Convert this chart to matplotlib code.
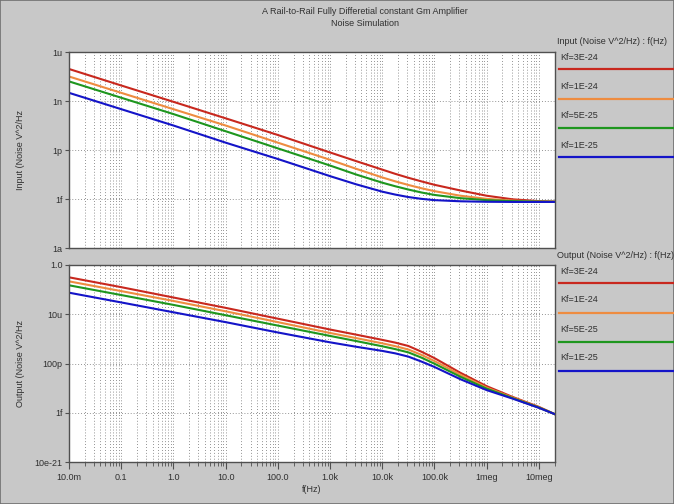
import numpy as np
import matplotlib
matplotlib.use('Agg')
import matplotlib.pyplot as plt
from matplotlib.ticker import FixedLocator, LogLocator, NullFormatter

plt.rcParams['font.family'] = ['Liberation Sans', 'DejaVu Sans']

# frequency points (log10 Hz) and noise values (log10 V^2/Hz)
log_f = [-2, -1, 0, 1, 2, 3, 3.5, 4, 4.25, 4.5, 4.75, 5, 5.5, 6, 6.5, 7, 7.31]

input_noise = {
    'Kf=3E-24': [-7.04, -8.05, -9.05, -10.06, -11.08, -12.15, -12.68, -13.2, -13.46, -13.7, -13.92, -14.13, -14.48, -14.8, -15.02, -15.13, -15.16],
    'Kf=1E-24': [-7.5, -8.5, -9.5, -10.5, -11.55, -12.6, -13.15, -13.68, -13.92, -14.14, -14.34, -14.52, -14.8, -14.99, -15.1, -15.15, -15.17],
    'Kf=5E-25': [-7.8, -8.8, -9.8, -10.85, -11.9, -12.95, -13.5, -14.0, -14.22, -14.42, -14.6, -14.75, -14.95, -15.07, -15.13, -15.16, -15.17],
    'Kf=1E-25': [-8.5, -9.5, -10.5, -11.55, -12.55, -13.6, -14.1, -14.55, -14.73, -14.88, -14.99, -15.07, -15.14, -15.17, -15.18, -15.18, -15.18],
}

output_noise = {
    'Kf=3E-24': [-1.25, -2.25, -3.3, -4.35, -5.45, -6.55, -7.07, -7.6, -7.88, -8.22, -8.8, -9.45, -10.95, -12.3, -13.4, -14.4, -15.15],
    'Kf=1E-24': [-1.66, -2.65, -3.65, -4.7, -5.8, -6.9, -7.42, -7.95, -8.24, -8.58, -9.12, -9.75, -11.15, -12.45, -13.47, -14.45, -15.15],
    'Kf=5E-25': [-2.06, -3.05, -4.05, -5.1, -6.15, -7.2, -7.72, -8.25, -8.54, -8.87, -9.4, -10.02, -11.35, -12.55, -13.52, -14.47, -15.15],
    'Kf=1E-25': [-2.81, -3.8, -4.8, -5.8, -6.85, -7.85, -8.3, -8.72, -8.97, -9.3, -9.8, -10.35, -11.6, -12.7, -13.57, -14.5, -15.15],
}

colors = ['#c8281e', '#ee8c40', '#1e961e', '#1414c8']

x_ticks = [1e-2, 1e-1, 1, 10, 100, 1e3, 1e4, 1e5, 1e6, 1e7]
x_labels = ['10.0m', '0.1', '1.0', '10.0', '100.0', '1.0k', '10.0k', '100.0k', '1meg', '10meg']
top_ticks = [1e-6, 1e-9, 1e-12, 1e-15, 1e-18]
top_labels = ['1u', '1n', '1p', '1f', '1a']
bot_ticks = [1.0, 1e-5, 1e-10, 1e-15, 1e-20]
bot_labels = ['1.0', '10u', '100p', '1f', '10e-21']

bg = '#c8c8c8'
txt = '#303030'
fs = 6.5

fig = plt.figure(figsize=(6.74, 5.04), dpi=100, facecolor=bg)

ax1 = fig.add_axes([69 / 674, 1 - 248 / 504, 486 / 674, 196 / 504])
ax2 = fig.add_axes([69 / 674, 1 - 462 / 504, 486 / 674, 197 / 504])

f = 10 ** np.array(log_f)


def style(ax, yticks, ylabels, ylim, ylabel, show_x):
    ax.set_xscale('log')
    ax.set_yscale('log')
    ax.set_xlim(1e-2, 10 ** 7.31)
    ax.set_ylim(*ylim)
    ax.set_facecolor('white')
    for s in ax.spines.values():
        s.set_color('#505050')
        s.set_linewidth(1.0)
    ax.yaxis.set_major_locator(FixedLocator(yticks))
    ax.yaxis.set_minor_locator(FixedLocator([]))
    ax.set_yticklabels(ylabels)
    ax.xaxis.set_major_locator(FixedLocator(x_ticks))
    ax.xaxis.set_minor_locator(LogLocator(base=10, subs=np.arange(2, 10), numticks=30))
    ax.xaxis.set_minor_formatter(NullFormatter())
    ax.grid(True, which='both', axis='x', color='#707070', linestyle=(0, (1, 2.5)), linewidth=0.6)
    ax.grid(True, which='major', axis='y', color='#707070', linestyle=(0, (1, 2.5)), linewidth=0.6)
    ax.tick_params(axis='y', direction='out', length=3, width=0.8, color='#505050',
                   labelsize=fs, labelcolor=txt, pad=1.5)
    if show_x:
        ax.set_xticklabels(x_labels)
        ax.tick_params(axis='x', which='major', direction='out', length=5, width=0.8,
                       color='#505050', labelsize=fs, labelcolor=txt, pad=3)
        ax.tick_params(axis='x', which='minor', direction='out', length=3, width=0.6,
                       color='#505050')
        ax.set_xlabel('f(Hz)', fontsize=fs, color=txt, labelpad=2)
    else:
        ax.tick_params(axis='x', which='both', length=0, labelbottom=False)
    ax.set_ylabel(ylabel, fontsize=fs, color=txt)


for (name, vals), c in zip(input_noise.items(), colors):
    ax1.plot(f, 10 ** np.array(vals), color=c, linewidth=1.5, label=name)
for (name, vals), c in zip(output_noise.items(), colors):
    ax2.plot(f, 10 ** np.array(vals), color=c, linewidth=1.5, label=name)

style(ax1, top_ticks, top_labels, (1e-18, 1e-6), 'Input (Noise V^2/Hz', False)
style(ax2, bot_ticks, bot_labels, (1e-20, 1.0), 'Output (Noise V^2/Hz', True)
ax1.yaxis.set_label_coords(-0.09, 0.5)
ax2.yaxis.set_label_coords(-0.09, 0.5)

# title
fig.text(365 / 674, 1 - 12 / 504, 'A Rail-to-Rail Fully Differetial constant Gm Amplifier',
         ha='center', va='center', fontsize=fs, color=txt)
fig.text(365 / 674, 1 - 24 / 504, 'Noise Simulation', ha='center', va='center', fontsize=fs, color=txt)

# legends drawn on the right side
def side_legend(title, title_y, names, text_ys, line_ys):
    fig.text(557 / 674, 1 - title_y / 504, title, ha='left', va='center', fontsize=fs, color=txt)
    for name, c, ty, ly in zip(names, colors, text_ys, line_ys):
        fig.text(560 / 674, 1 - ty / 504, name, ha='left', va='center', fontsize=fs, color=txt)
        fig.add_artist(plt.Line2D([559 / 674, 1.0], [1 - ly / 504, 1 - ly / 504],
                                  color=c, linewidth=1.6, transform=fig.transFigure))


side_legend('Input (Noise V^2/Hz) : f(Hz)', 41, list(input_noise.keys()),
            [57, 86, 115, 145], [69, 98.5, 127.5, 157])
side_legend('Output (Noise V^2/Hz) : f(Hz)', 255, list(output_noise.keys()),
            [271, 300, 329, 358], [282.5, 312.5, 342, 371])

fig.add_artist(plt.Rectangle((0, 0), 1, 1, transform=fig.transFigure, fill=False,
                             edgecolor='#707070', linewidth=1.2))

fig.savefig('out.png', dpi=100, facecolor=bg)
